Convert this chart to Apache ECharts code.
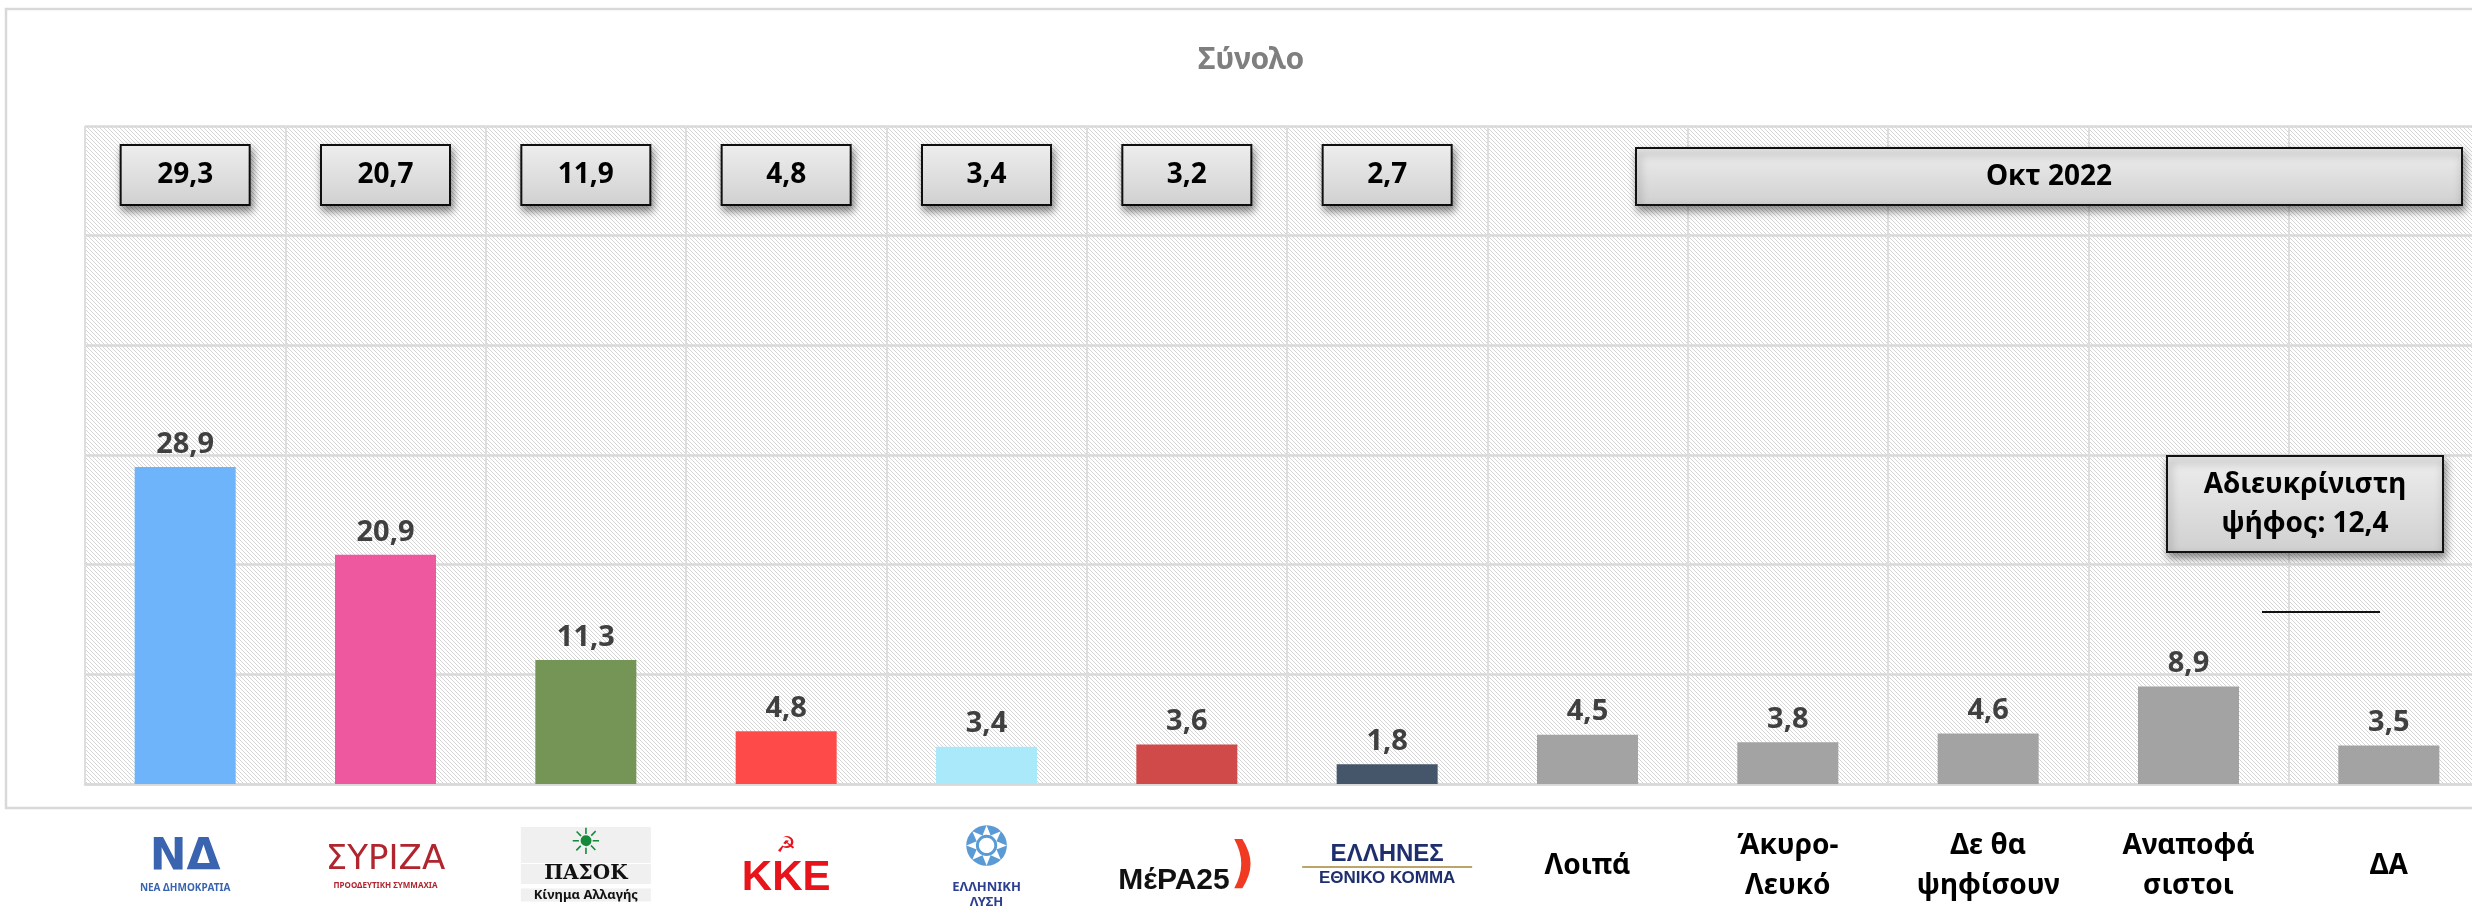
<!DOCTYPE html>
<html><head><meta charset="utf-8">
<script src="https://cdn.jsdelivr.net/npm/echarts@6/dist/echarts.min.js"></script>
<style>html,body{margin:0;padding:0;background:#fff}#c{width:2472px;height:921px}</style>
</head><body><div id="c"></div>
<script>
// ---------------- data ----------------
const titleText = 'Σύνολο';
const categories = ['ΝΔ', 'ΣΥΡΙΖΑ', 'ΠΑΣΟΚ', 'ΚΚΕ', 'Ελληνική Λύση', 'ΜέΡΑ25', 'Έλληνες',
  'Λοιπά', 'Άκυρο-Λευκό', 'Δε θα ψηφίσουν', 'Αναποφάσιστοι', 'ΔΑ'];
const tickLabels = ['ΝΔ', 'ΣΥΡΙΖΑ', 'ΠΑΣΟΚ', 'ΚΚΕ', 'Ελληνική Λύση', 'ΜέΡΑ25', 'Έλληνες',
  'Λοιπά', 'Άκυρο-\nΛευκό', 'Δε θα\nψηφίσουν', 'Αναποφά\nσιστοι', 'ΔΑ'];
const currentValues = [28.9, 20.9, 11.3, 4.8, 3.4, 3.6, 1.8, 4.5, 3.8, 4.6, 8.9, 3.5];
const previousValues = [29.3, 20.7, 11.9, 4.8, 3.4, 3.2, 2.7, null, null, null, null, null];
const previousLabel = 'Οκτ 2022';
const undecidedLabel = 'Αδιευκρίνιστη\nψήφος: ';
const undecidedVote = 12.4;
const yTicks = [0, 10, 20, 30, 40, 50, 60];

// ---------------- styles ----------------
const barColors = ['#6db4fa', '#ee589e', '#749556', '#ff4a4a', '#aae9f9', '#d04a4a', '#46566a',
  '#a3a3a3', '#a3a3a3', '#a3a3a3', '#a3a3a3', '#a3a3a3'];
const F = '"Noto Sans", "DejaVu Sans", sans-serif';
const fmt = v => String(v).replace('.', ',');

function hatchCanvas() {
  const c = document.createElement('canvas');
  c.width = 4; c.height = 4;
  const g = c.getContext('2d');
  g.fillStyle = '#ffffff'; g.fillRect(0, 0, 4, 4);
  g.fillStyle = '#d4d4d4';
  for (let i = 0; i < 4; i++) g.fillRect(i, i, 1, 1);
  return c;
}
const boxGradient = () => new echarts.graphic.LinearGradient(0, 0, 0, 1, [
  { offset: 0, color: '#eeeeee' }, { offset: 1, color: '#d0d0d0' }]);
const boxGradObj = { type: 'linear', x: 0, y: 0, x2: 0, y2: 1, colorStops: [
  { offset: 0, color: '#eeeeee' }, { offset: 1, color: '#d0d0d0' }] };

const logoRich = {
  'ΝΔ': '{nd|ΝΔ}\n{ndS|ΝΕΑ ΔΗΜΟΚΡΑΤΙΑ}',
  'ΣΥΡΙΖΑ': '{sy|ΣΥΡΙΖΑ}\n{syS|ΠΡΟΟΔΕΥΤΙΚΗ ΣΥΜΜΑΧΙΑ}',
  'ΠΑΣΟΚ': '{ps0|☀}\n{ps|ΠΑΣΟΚ}\n{psS|Κίνημα Αλλαγής}',
  'ΚΚΕ': '{kk0|☭}\n{kk|ΚΚΕ}',
  'Ελληνική Λύση': '{el0|❂}\n{el|ΕΛΛΗΝΙΚΗ}\n{el|ΛΥΣΗ}',
  'ΜέΡΑ25': '{me|ΜέΡΑ25}{sw|)}',
  'Έλληνες': '{eh|ΕΛΛΗΝΕΣ}\n{ar| }\n{eh2|ΕΘΝΙΚΟ ΚΟΜΜΑ}'
};

const chart = echarts.init(document.getElementById('c'), null, { renderer: 'canvas' });
chart.setOption({
  backgroundColor: '#ffffff',
  animation: false,
  title: {
    text: titleText, left: 1193, top: 40,
    textStyle: { fontFamily: F, fontSize: 30, fontWeight: 'bold', color: '#7f7f7f' }
  },
  grid: {
    left: 85, top: 126, width: 2404, height: 658,
    outerBoundsMode: 'none', containLabel: false,
    show: true, borderWidth: 0,
    backgroundColor: { image: hatchCanvas(), repeat: 'repeat' }
  },
  xAxis: [{
    type: 'category', data: categories, position: 'bottom',
    axisLine: { show: true, lineStyle: { color: '#d9d9d9', width: 2.5 } },
    axisTick: { show: false },
    splitLine: { show: true, lineStyle: { color: '#dedede', width: 2 } },
    axisLabel: {
      interval: 0, margin: 82, verticalAlign: 'middle',
      fontFamily: F, fontSize: 28, fontWeight: 'bold', color: '#000', lineHeight: 40,
      formatter: (v, i) => logoRich[v] || tickLabels[i],
      rich: {
        nd: { fontFamily: '"DejaVu Sans"', fontSize: 44, fontWeight: 'bold', color: '#3a64b0', lineHeight: 44 },
        ndS: { fontFamily: F, fontSize: 10, fontWeight: 'bold', color: '#3a64b0', lineHeight: 14 },
        sy: { fontFamily: '"DejaVu Sans"', fontSize: 34, fontWeight: 'normal', color: '#b0262e', lineHeight: 40 },
        syS: { fontFamily: F, fontSize: 8, fontWeight: 'bold', color: '#b0262e', lineHeight: 12 },
        ps0: { fontFamily: '"DejaVu Sans"', fontSize: 36, color: '#15893a', lineHeight: 34, width: 130, align: 'center', backgroundColor: '#f0f0f0' },
        ps: { fontFamily: '"DejaVu Serif"', fontSize: 20, fontWeight: 'bold', color: '#111', lineHeight: 24, width: 130, align: 'center', backgroundColor: '#f0f0f0' },
        psS: { fontFamily: F, fontSize: 13, color: '#111', lineHeight: 18, width: 130, align: 'center', backgroundColor: '#f0f0f0' },
        kk0: { fontFamily: '"DejaVu Sans"', fontSize: 22, color: '#e8141c', lineHeight: 24 },
        kk: { fontFamily: '"Liberation Sans Narrow", "Liberation Sans"', fontSize: 42, fontWeight: 'bold', color: '#e8141c', lineHeight: 40 },
        el0: { fontFamily: '"DejaVu Sans"', fontSize: 54, color: '#5b9bd5', lineHeight: 58 },
        el: { fontFamily: F, fontSize: 13, color: '#2d3f8f', lineHeight: 15 },
        me: { fontFamily: '"Liberation Sans Narrow", "Liberation Sans"', fontSize: 30, fontWeight: 'bold', color: '#111', lineHeight: 40, verticalAlign: 'bottom' },
        sw: { fontFamily: '"DejaVu Sans"', fontSize: 56, fontWeight: 'bold', color: '#f03a24', lineHeight: 60 },
        eh: { fontFamily: '"Liberation Sans Narrow", "Liberation Sans"', fontSize: 24, fontWeight: 'bold', color: '#1f2f6e', lineHeight: 22 },
        ar: { fontSize: 2, lineHeight: 3, height: 2, width: 170, backgroundColor: '#b9a46a' },
        eh2: { fontFamily: '"Liberation Sans Narrow", "Liberation Sans"', fontSize: 17, fontWeight: 'bold', color: '#1f2f6e', lineHeight: 20 }
      }
    }
  }, {
    type: 'category', data: categories, position: 'top',
    axisLine: { show: false }, axisTick: { show: false }, splitLine: { show: false },
    axisLabel: {
      inside: true, margin: 32, interval: 0,
      formatter: (v, i) => previousValues[i] == null ? '' : '{b|' + fmt(previousValues[i]) + '}',
      rich: {
        b: {
          fontFamily: F, fontSize: 28, fontWeight: 'bold', color: '#000',
          width: 103, height: 34, lineHeight: 34, align: 'center',
          padding: [12, 12, 12, 12],
          backgroundColor: boxGradObj, borderColor: '#111', borderWidth: 2,
          shadowColor: 'rgba(0,0,0,0.45)', shadowBlur: 8, shadowOffsetX: 2, shadowOffsetY: 5
        }
      }
    }
  }],
  yAxis: {
    type: 'value', min: yTicks[0], max: yTicks[yTicks.length - 1], interval: yTicks[1] - yTicks[0],
    axisLabel: { show: false }, axisLine: { show: false }, axisTick: { show: false },
    splitLine: { show: true, lineStyle: { color: '#d9d9d9', width: 2.5 } }
  },
  series: [{
    type: 'bar', xAxisIndex: 0, barWidth: 101,
    data: currentValues.map((v, i) => ({ value: v, itemStyle: { color: barColors[i] } })),
    label: {
      show: true, position: 'top', distance: 8, formatter: p => fmt(p.value),
      fontFamily: F, fontSize: 29, fontWeight: 'bold', color: '#404040'
    }
  }],
  graphic: [
    { type: 'rect', silent: true, z: 0, shape: { x: 6, y: 9, width: 2520, height: 799 },
      style: { fill: 'none', stroke: '#d9d9d9', lineWidth: 2.5 } },
    { type: 'group', z: 100, children: [
      { type: 'rect', z: 100, shape: { x: 1636, y: 148, width: 826, height: 57 },
        style: { fill: boxGradient(), stroke: '#111', lineWidth: 2, shadowBlur: 8, shadowColor: 'rgba(0,0,0,0.45)', shadowOffsetX: 2, shadowOffsetY: 5 } },
      { type: 'text', z: 101, x: 2049, y: 177,
        style: { text: previousLabel, font: 'bold 28px ' + F, fill: '#000', align: 'center', verticalAlign: 'middle' } }
    ]},
    { type: 'group', z: 100, children: [
      { type: 'rect', z: 100, shape: { x: 2167, y: 456, width: 276, height: 96 },
        style: { fill: boxGradient(), stroke: '#111', lineWidth: 2, shadowBlur: 8, shadowColor: 'rgba(0,0,0,0.45)', shadowOffsetX: 2, shadowOffsetY: 5 } },
      { type: 'text', z: 101, x: 2305, y: 505,
        style: { text: undecidedLabel + fmt(undecidedVote), font: 'bold 28px ' + F, lineHeight: 39, fill: '#000', align: 'center', verticalAlign: 'middle' } }
    ]},
    { type: 'line', z: 100, shape: { x1: 2262, y1: 612, x2: 2380, y2: 612 }, style: { stroke: '#111', lineWidth: 2 } }
  ]
});
</script></body></html>
